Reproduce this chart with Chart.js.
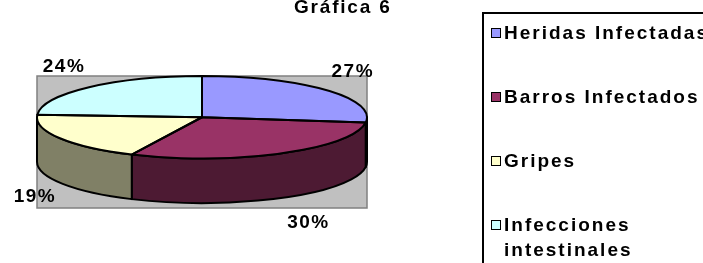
<!DOCTYPE html>
<html>
<head>
<meta charset="utf-8">
<script src="https://cdn.jsdelivr.net/npm/chart.js@4/dist/chart.umd.min.js"></script>
<style>
  body { margin: 0; background: #fff; overflow: hidden; }
  #wrap { position: relative; width: 703px; height: 263px; overflow: hidden; }
  #title {
    position: absolute; left: 294px; top: 0px;
    font: bold 19px "Liberation Sans", Arial, sans-serif; letter-spacing: 1.8px;
    line-height: 27px; margin-top: -7px; white-space: nowrap;
  }
  #legend {
    position: absolute; left: 482px; top: 12px; width: 260px; height: 300px;
    border: 2px solid #000; box-sizing: border-box;
  }
  .item { position: absolute; left: 7px; display: flex; align-items: flex-start;
    font: bold 19px "Liberation Sans", Arial, sans-serif; letter-spacing: 2px; line-height: 25px; }
  .box { width: 8px; height: 8px; border: 1.5px solid #000; margin-top: 8px; margin-right: 3px; flex: none; }
  .txt { width: 215px; }
</style>
</head>
<body>
<div id="wrap">
  <canvas id="c" width="703" height="263"></canvas>
  <div id="title"></div>
  <div id="legend"></div>
</div>
<script>
// chart data
const chartTitle = "Gráfica 6";
const categories = ["Heridas Infectadas", "Barros Infectados", "Gripes", "Infecciones intestinales"];
const values = [27, 30, 19, 24];
const sliceColors = ["#9999FF", "#993366", "#FFFFCC", "#CCFFFF"];

const TILT = 0.25;   // ellipse height / width
const DEPTH = 0.27;  // side height relative to rx

function darken(hex) {
  const n = parseInt(hex.slice(1), 16);
  const r = (n >> 16) & 255, g = (n >> 8) & 255, b = n & 255;
  return "rgb(" + Math.round(r * 0.5) + "," + Math.round(g * 0.5) + "," + Math.round(b * 0.5) + ")";
}

function geom(chart) {
  const a = chart.chartArea;
  const rx = a.width / 2;
  const ry = rx * TILT;
  return { cx: (a.left + a.right) / 2, cy: a.top + ry, rx: rx, ry: ry, depth: rx * DEPTH };
}

const pie3d = {
  id: "pie3d",
  beforeDraw(chart) {
    const ctx = chart.ctx, a = chart.chartArea;
    ctx.save();
    ctx.fillStyle = "#C0C0C0";
    ctx.fillRect(a.left, a.top, a.width, a.height);
    ctx.strokeStyle = "#808080";
    ctx.lineWidth = 1.5;
    ctx.strokeRect(a.left, a.top, a.width, a.height);
    ctx.restore();
  },
  beforeDatasetsDraw(chart) {
    const ctx = chart.ctx;
    const g = geom(chart);
    const arcs = chart.getDatasetMeta(0).data;
    // side walls for the front half
    ctx.save();
    ctx.lineWidth = 2;
    ctx.strokeStyle = "#000";
    ctx.lineJoin = "round";
    arcs.forEach((arc, i) => {
      const a0 = Math.max(arc.startAngle, 0);
      const b0 = Math.min(arc.endAngle, Math.PI);
      if (a0 >= b0) return;
      ctx.beginPath();
      ctx.ellipse(g.cx, g.cy, g.rx, g.ry, 0, a0, b0, false);
      ctx.lineTo(g.cx + g.rx * Math.cos(b0), g.cy + g.ry * Math.sin(b0) + g.depth);
      ctx.ellipse(g.cx, g.cy + g.depth, g.rx, g.ry, 0, b0, a0, true);
      ctx.closePath();
      ctx.fillStyle = darken(sliceColors[i]);
      ctx.fill();
      ctx.stroke();
    });
    ctx.restore();
    // squash the library's circle into the top ellipse
    const arc = arcs[0];
    const R = arc.outerRadius;
    ctx.save();
    ctx.translate(g.cx, g.cy);
    ctx.scale(g.rx / R, g.ry / R);
    ctx.translate(-arc.x, -arc.y);
  },
  afterDatasetsDraw(chart) {
    const ctx = chart.ctx;
    ctx.restore();
    const g = geom(chart);
    const arcs = chart.getDatasetMeta(0).data;
    const total = values.reduce((s, v) => s + v, 0);
    ctx.save();
    ctx.lineWidth = 2;
    ctx.strokeStyle = "#000";
    ctx.lineJoin = "round";
    arcs.forEach((arc) => {
      ctx.beginPath();
      ctx.moveTo(g.cx, g.cy);
      ctx.ellipse(g.cx, g.cy, g.rx, g.ry, 0, arc.startAngle, arc.endAngle, false);
      ctx.closePath();
      ctx.stroke();
    });
    // percentage labels
    ctx.fillStyle = "#000";
    ctx.font = "bold 19px 'Liberation Sans', Arial, sans-serif";
    ctx.letterSpacing = "1.5px";
    ctx.textAlign = "center";
    ctx.textBaseline = "middle";
    arcs.forEach((arc, i) => {
      const m = (arc.startAngle + arc.endAngle) / 2;
      const c = Math.cos(m), s = Math.sin(m);
      const px = g.cx + g.rx * c;
      const py = g.cy + g.ry * s + (s > 0 ? g.depth : 0);
      const txt = Math.round(values[i] / total * 100) + "%";
      ctx.fillText(txt, px + Math.sign(c) * 26 + 1, py + 28 * s);
    });
    ctx.restore();
  }
};

new Chart(document.getElementById("c"), {
  type: "pie",
  data: {
    labels: categories,
    datasets: [{
      data: values,
      backgroundColor: sliceColors,
      borderWidth: 0,
      hoverOffset: 0,
      clip: false
    }]
  },
  options: {
    responsive: false,
    animation: false,
    events: [],
    layout: { padding: { left: 37, top: 76, right: 336, bottom: 55 } },
    plugins: { legend: { display: false }, tooltip: { enabled: false }, title: { display: false } }
  },
  plugins: [pie3d]
});

document.getElementById("title").textContent = chartTitle;
const legend = document.getElementById("legend");
categories.forEach((name, i) => {
  const row = document.createElement("div");
  row.className = "item";
  row.style.top = (6 + i * 64) + "px";
  const box = document.createElement("div");
  box.className = "box";
  box.style.background = sliceColors[i];
  const txt = document.createElement("div");
  txt.className = "txt";
  txt.textContent = name;
  row.appendChild(box);
  row.appendChild(txt);
  legend.appendChild(row);
});
</script>
</body>
</html>
